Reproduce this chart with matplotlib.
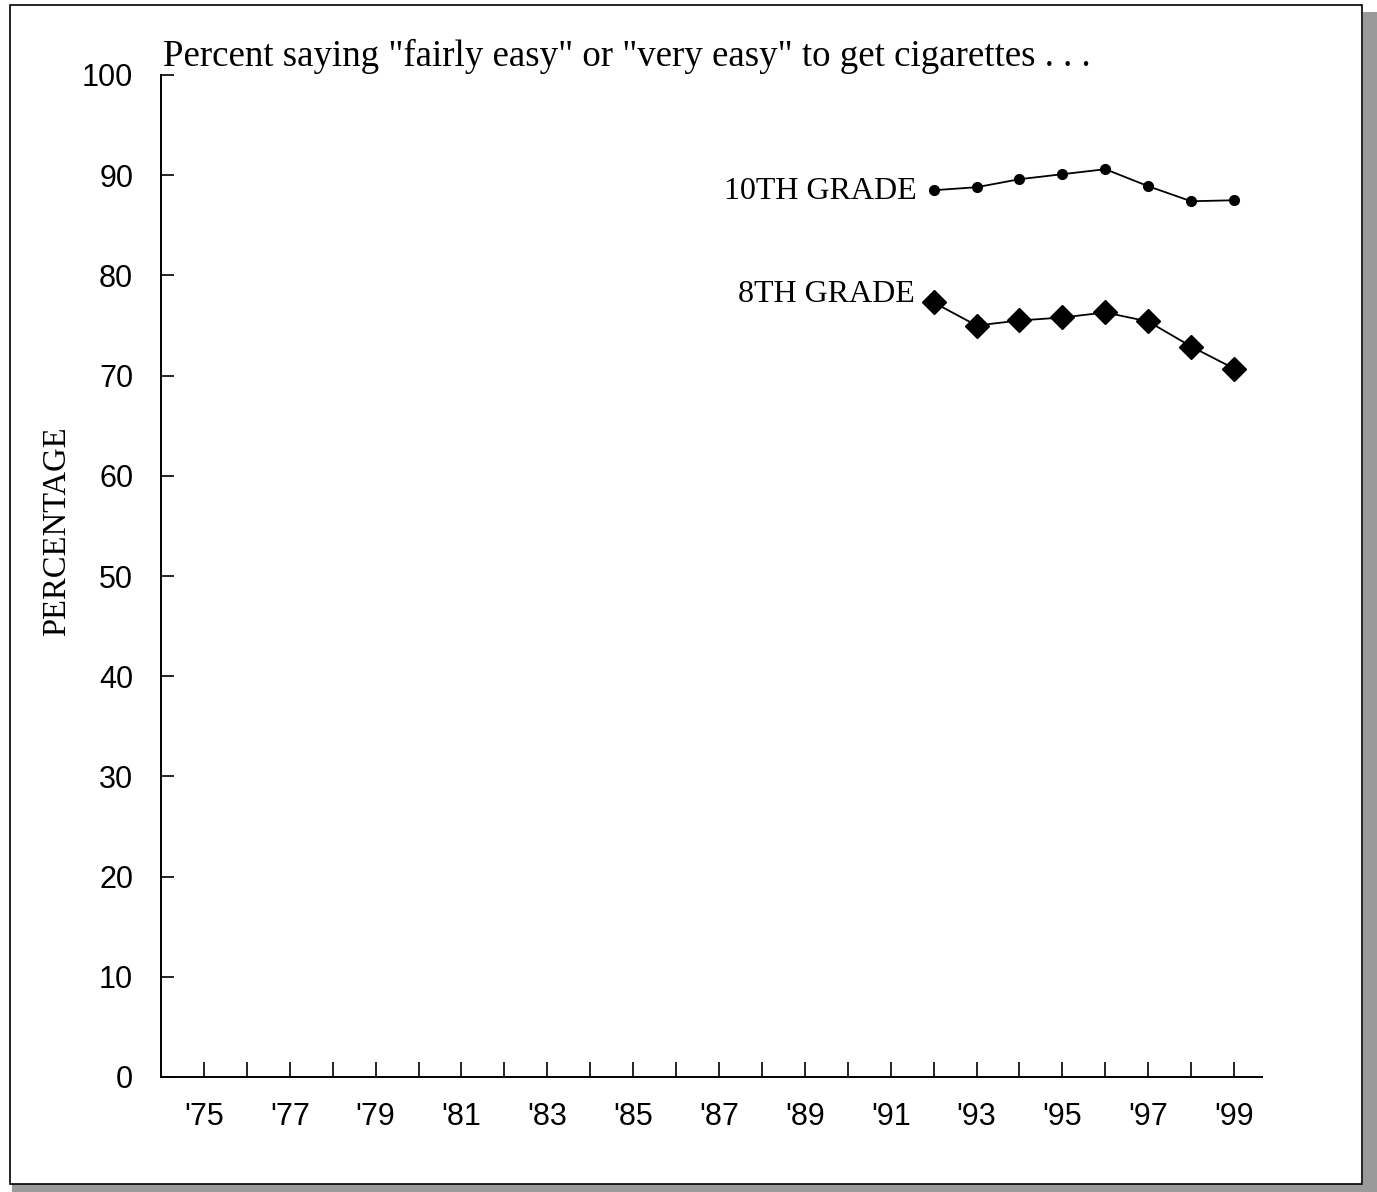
import matplotlib
matplotlib.use("Agg")
import matplotlib.pyplot as plt
from matplotlib.patches import Rectangle

years = [1992, 1993, 1994, 1995, 1996, 1997, 1998, 1999]
grade10 = [88.5, 88.8, 89.6, 90.1, 90.6, 88.9, 87.4, 87.5]
grade8 = [77.3, 75.0, 75.5, 75.8, 76.3, 75.4, 72.9, 70.7]
tick_years = list(range(1975, 2000))
tick_labels = ["'%02d" % (y % 100) if y % 2 == 1 else "" for y in tick_years]
y_ticks = list(range(0, 101, 10))

W, H = 1377, 1192
fig = plt.figure(figsize=(W / 100, H / 100), dpi=100)
fig.patch.set_facecolor("white")

# frame with shadow
fig.patches.append(Rectangle((12 / W, 0), (W - 12) / W, 8 / H, transform=fig.transFigure,
                             facecolor="#9a9a9a", edgecolor="none", zorder=-3))
fig.patches.append(Rectangle((1363 / W, 0), (W - 1363) / W, (H - 12) / H, transform=fig.transFigure,
                             facecolor="#9a9a9a", edgecolor="none", zorder=-3))
fig.patches.append(Rectangle((10 / W, 1 - 1184 / H), (1362 - 10) / W, (1184 - 5) / H,
                             transform=fig.transFigure, facecolor="white",
                             edgecolor="black", linewidth=1.2, zorder=-2))

ax = fig.add_axes([161 / W, 1 - 1077 / H, (1262 - 161) / W, (1077 - 75) / H])
ax.set_zorder(2)
ax.set_facecolor("none")
ax.set_xlim(1974, 1999.65)
ax.set_ylim(0, 100)

ax.plot(years, grade10, color="black", linewidth=1.3, marker="o", markersize=7, clip_on=False)
ax.plot(years, grade8, color="black", linewidth=1.3, marker="D", markersize=12.5, clip_on=False)

for s in ["top", "right"]:
    ax.spines[s].set_visible(False)
for s in ["left", "bottom"]:
    ax.spines[s].set_linewidth(1.4)

ax.set_yticks(y_ticks)
ax.set_yticklabels([str(v) for v in y_ticks], fontfamily="Liberation Sans", fontsize=22)
ax.set_xticks(tick_years)
ax.set_xticklabels(tick_labels, fontfamily="Liberation Sans", fontsize=22)
ax.tick_params(axis="y", direction="in", length=9, width=1.2, pad=20)
ax.tick_params(axis="x", direction="in", length=11, width=1.2, pad=18)

fig.text(57 / W, 1 - 531 / H, "PERCENTAGE", fontfamily="Liberation Serif", fontsize=23.5,
         rotation=90, ha="center", va="center")

fig.text(163 / W, 1 - 66 / H, "Percent saying \"fairly easy\" or \"very easy\" to get cigarettes . . .",
         fontfamily="Liberation Serif", fontsize=26.6, ha="left", va="baseline")

ax.text(1991.6, grade10[0] - 0.15, "10TH GRADE", fontfamily="Liberation Serif", fontsize=23,
        ha="right", va="center")
ax.text(1991.57, grade8[0] + 0.8, "8TH GRADE", fontfamily="Liberation Serif", fontsize=23,
        ha="right", va="center")

fig.savefig("out.png", dpi=100)
